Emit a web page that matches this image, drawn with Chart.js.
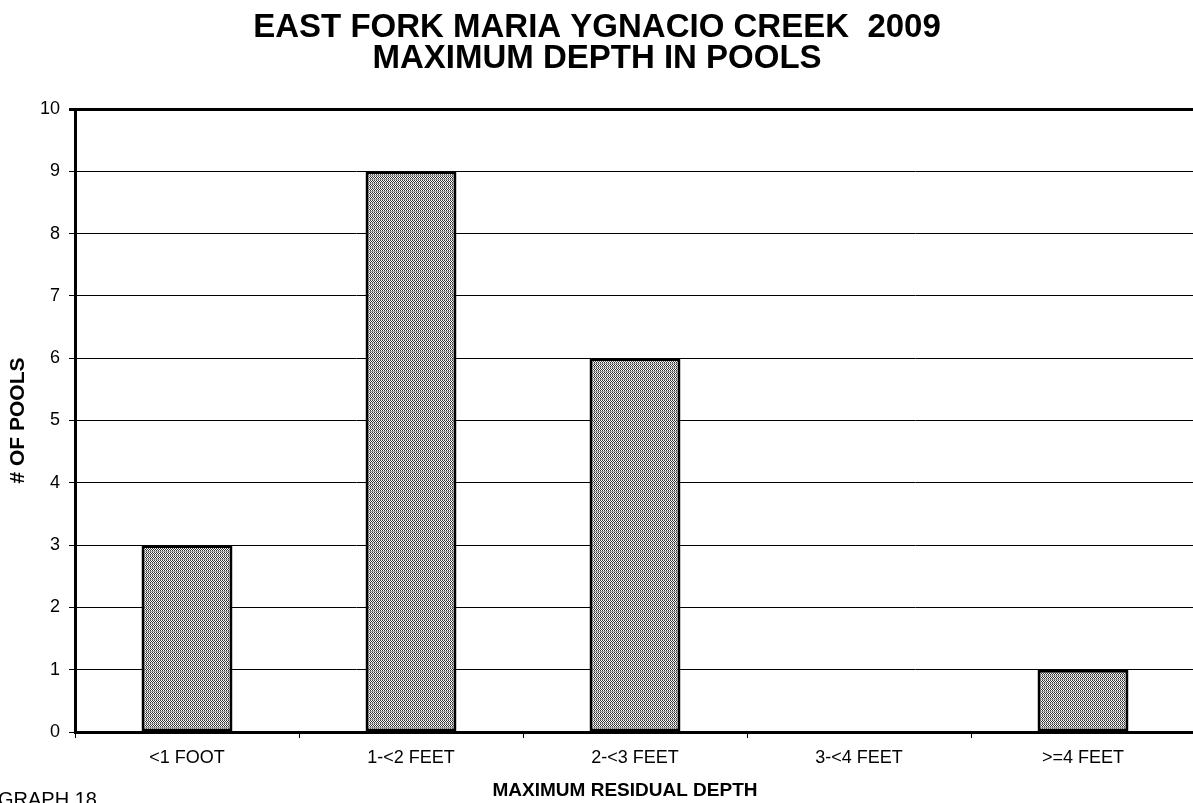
<!DOCTYPE html>
<html>
<head>
<meta charset="utf-8">
<script src="https://cdn.jsdelivr.net/npm/chart.js@4/dist/chart.umd.min.js"></script>
<style>
html,body{margin:0;padding:0;background:#fff;overflow:hidden;width:1193px;height:803px;}
#wrap{position:absolute;left:0;top:0;width:1196px;height:803px;}
</style>
</head>
<body>
<div id="wrap"><canvas id="c" width="1196" height="803"></canvas></div>
<script>
const categories = ["<1 FOOT", "1-<2 FEET", "2-<3 FEET", "3-<4 FEET", ">=4 FEET"];
const poolCounts = [3, 9, 6, 0, 1];
const titleLines = ["EAST FORK MARIA YGNACIO CREEK  2009", "MAXIMUM DEPTH IN POOLS"];
const xTitle = "MAXIMUM RESIDUAL DEPTH";
const yTitle = "# OF POOLS";
const footLabel = "GRAPH 18";
const yMin = 0, yMax = 10, yStep = 1;

const FONT = '"Liberation Sans", Arial, sans-serif';

function makePattern() {
  const p = document.createElement('canvas');
  p.width = 4; p.height = 4;
  const g = p.getContext('2d');
  g.fillStyle = '#ffffff'; g.fillRect(0,0,4,4);
  g.fillStyle = '#333333';
  const dark = [[0,0],[2,0],[1,1],[3,1],[0,2],[2,2]];
  dark.forEach(([x,y]) => g.fillRect(x,y,1,1));
  g.fillStyle = '#a0a0a0';
  g.fillRect(0,3,4,1);
  const ctx = document.getElementById('c').getContext('2d');
  return ctx.createPattern(p, 'repeat');
}

const textPlugin = {
  id: 'texts',
  afterDraw(chart) {
    const ctx = chart.ctx;
    ctx.save();
    ctx.fillStyle = '#000';
    ctx.textAlign = 'center';
    ctx.textBaseline = 'alphabetic';
    ctx.font = 'bold 33px ' + FONT;
    ctx.fillText(titleLines[0], 597, 37);
    ctx.fillText(titleLines[1], 597, 68);
    ctx.font = 'bold 19px ' + FONT;
    ctx.textBaseline = 'middle';
    ctx.fillText(xTitle, 625, 791);
    ctx.textAlign = 'left';
    ctx.textBaseline = 'alphabetic';
    ctx.font = '20px ' + FONT;
    ctx.fillText(footLabel, -2, 806);
    ctx.restore();
  }
};

new Chart(document.getElementById('c'), {
  type: 'bar',
  data: {
    labels: categories,
    datasets: [{
      data: poolCounts,
      backgroundColor: makePattern(),
      borderColor: '#000',
      borderWidth: 3,
      borderSkipped: false,
      categoryPercentage: 1,
      barPercentage: 0.406
    }]
  },
  options: {
    responsive: false,
    animation: false,
    devicePixelRatio: 1,
    layout: { padding: { top: 109, right: 1, left: 0, bottom: 0 } },
    plugins: { legend: { display: false }, tooltip: { enabled: false }, title: { display: false } },
    scales: {
      x: {
        offset: true,
        grid: { offset: true, drawOnChartArea: false, drawTicks: true, tickLength: 6, color: '#000', lineWidth: 1 },
        border: { display: true, color: '#000', width: 3 },
        ticks: { color: '#000', padding: 9, font: { family: FONT, size: 18 } },
        title: { display: false },
        afterFit(scale) { scale.height = 71; }
      },
      y: {
        min: yMin, max: yMax,
        ticks: { stepSize: yStep, color: '#000', padding: 9, font: { family: FONT, size: 18 } },
        grid: { color: '#000', lineWidth: (c) => (c.tick && c.tick.value === yMax ? 3 : 1), drawTicks: true, tickLength: 6 },
        border: { display: true, color: '#000', width: 3 },
        title: { display: true, text: yTitle, color: '#000', padding: { top: 6, bottom: 0 },
                 font: { family: FONT, size: 21, weight: 'bold' } },
        afterFit(scale) { scale.width = 75; }
      }
    }
  },
  plugins: [textPlugin]
});
</script>
</body>
</html>
